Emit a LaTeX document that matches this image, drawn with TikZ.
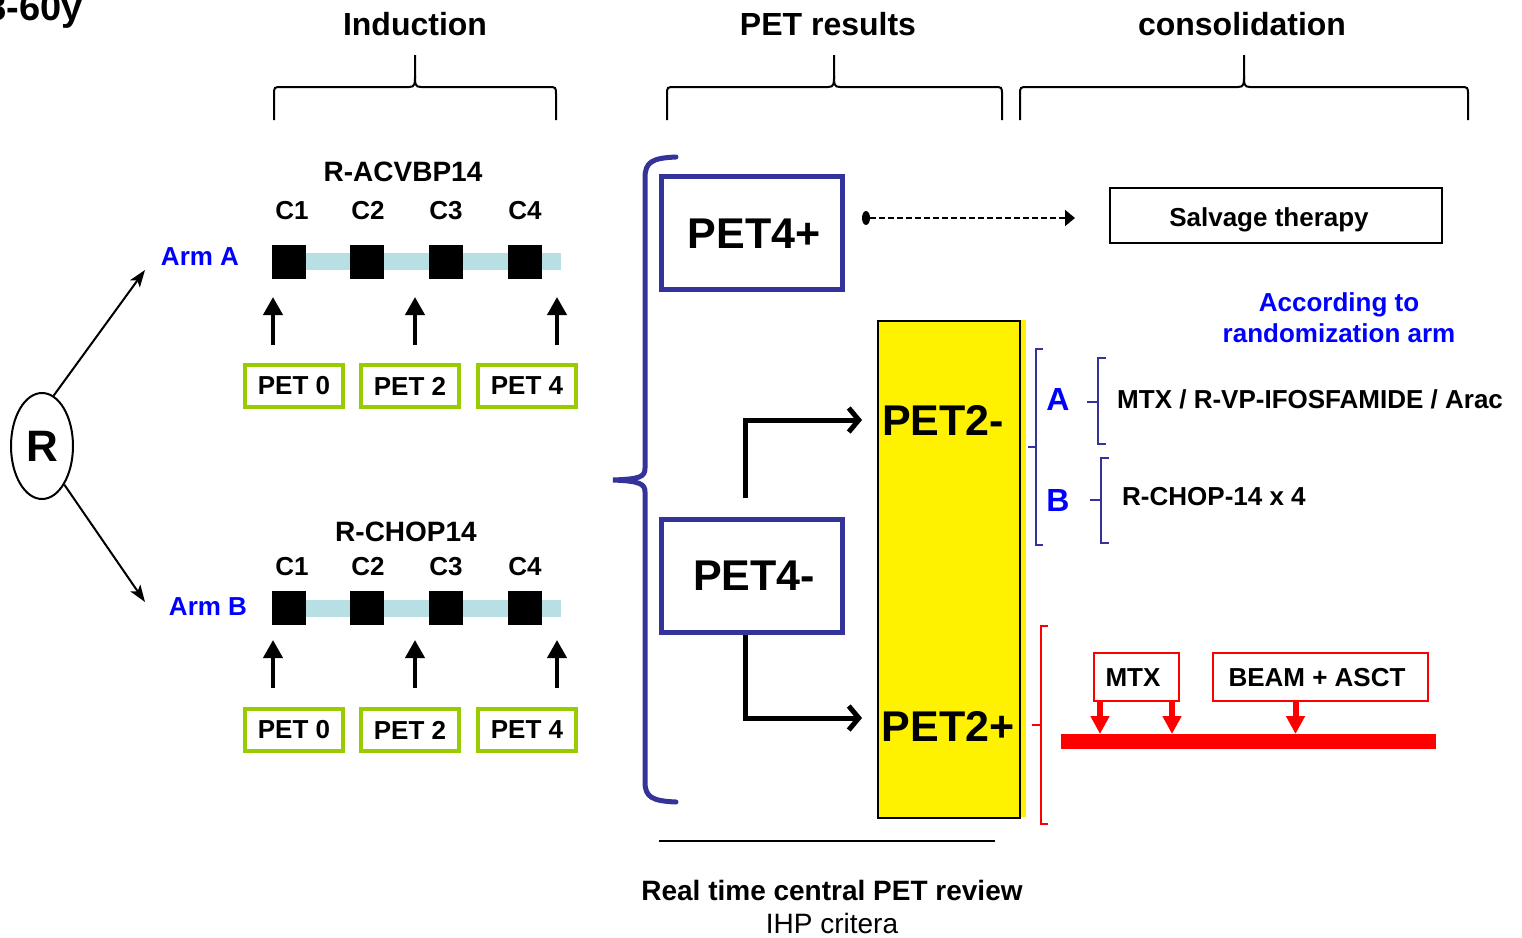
\documentclass[tikz,border=0pt]{standalone}
\usepackage{fontspec}
\setmainfont{Liberation Sans}
\usetikzlibrary{arrows.meta,shapes.geometric}
\definecolor{brblue}{RGB}{51,51,153}
\definecolor{armblue}{RGB}{0,0,255}
\definecolor{petgreen}{RGB}{153,204,0}
\definecolor{barblue}{RGB}{183,223,228}
\newcommand{\fsz}[1]{\fontsize{#1}{#1}\selectfont}
\newcommand{\topbrace}[3]{%
  \draw[line width=2pt] (#1,120) -- (#1,95) .. controls (#1,87) .. ({#1+8},87) -- ({#2-6},87) .. controls (#2,87) and (#2,84) .. (#2,76) -- (#2,55);
  \draw[line width=2pt] (#3,120) -- (#3,95) .. controls (#3,87) .. ({#3-8},87) -- ({#2+6},87) .. controls (#2,87) and (#2,84) .. (#2,76);}
\begin{document}
\begin{tikzpicture}[x=1pt,y=-1pt,
  hdr/.style={font=\bfseries\fsz{32}, inner sep=0},
  lbl/.style={font=\bfseries\fsz{26}, inner sep=0},
  armlbl/.style={font=\bfseries\fsz{26}, text=armblue, inner sep=0},
  petbox/.style={draw=petgreen, line width=4pt, minimum width=98pt, minimum height=42pt, font=\bfseries\fsz{26}, inner sep=0},
  cyc/.style={fill=black, minimum size=34pt, inner sep=0},
  uparrow/.style={line width=4pt, -{Triangle[length=18pt,width=19pt]}},
  rarrow/.style={line width=2pt, -{Stealth[length=17pt,width=12pt,inset=4pt]}},
  bigpet/.style={draw=brblue, line width=5pt, minimum width=181pt, minimum height=113pt, inner sep=0},
  bigtxt/.style={font=\bfseries\fsz{43}, inner sep=0},
  flowarrow/.style={line width=5pt, -{Straight Barb[length=10pt,width=24pt]}},
  redbox/.style={draw=red, line width=2pt, minimum height=48pt, inner sep=0},
  redtxt/.style={font=\bfseries\fsz{26}, inner sep=0},
  redarrow/.style={red, line width=6pt, -{Triangle[length=18pt,width=18pt]}},
  brk/.style={brblue, line width=2pt}
]
\useasboundingbox (0,0) rectangle (1522,937);

% title fragment
\node[font=\bfseries\fsz{38}, anchor=base east, inner sep=0] (title) at (83,20) {18-60y};

% headers
\node[hdr, anchor=base] (hInd) at (415,35) {Induction};
\node[hdr, anchor=base] (hPet) at (828,35) {PET results};
\node[hdr, anchor=base] (hCon) at (1242,35) {consolidation};
\topbrace{274}{415}{556}
\topbrace{667}{834}{1002}
\topbrace{1020}{1244}{1468}

% randomisation
\node[ellipse, draw, line width=2pt, minimum width=62pt, minimum height=106pt, inner sep=0, font=\bfseries\fsz{44}] (R) at (42,446) {R};
\coordinate (tipA) at (145,270);
\coordinate (tipB) at (145,602);
\draw[rarrow] (R.77) -- (tipA);
\draw[rarrow] (R.-60) -- (tipB);
\node[armlbl, anchor=base] (armA) at (200,265) {Arm A};
\node[armlbl, anchor=base] (armB) at (208,615) {Arm B};

% arm A
\node[lbl, anchor=base, font=\bfseries\fsz{28}] (regA) at (403,181) {R-ACVBP14};
\fill[barblue] (289,253) rectangle (561,270);
\foreach \x/\i in {289/1,367/2,446/3,525/4}{
  \node[cyc] (cA\i) at (\x,262) {};
}
\foreach \x/\i in {292/1,368/2,446/3,525/4}{
  \node[lbl, anchor=base] (lA\i) at (\x,219) {C\i};
}
\foreach \x/\i in {273/0,415/2,557/4}{
  \coordinate (uAs\i) at (\x,345);
  \coordinate (uAe\i) at (\x,297);
  \draw[uparrow] (uAs\i) -- (uAe\i);
}
\node[petbox] (pA0) at (294,386) {PET 0};
\node[petbox] (pA2) at (410,386) {PET 2};
\node[petbox] (pA4) at (527,386) {PET 4};

% arm B
\node[lbl, anchor=base, font=\bfseries\fsz{28}] (regB) at (406,541) {R-CHOP14};
\fill[barblue] (289,600) rectangle (561,617);
\foreach \x/\i in {289/1,367/2,446/3,525/4}{
  \node[cyc] (cB\i) at (\x,608) {};
}
\foreach \x/\i in {292/1,368/2,446/3,525/4}{
  \node[lbl, anchor=base] (lB\i) at (\x,575) {C\i};
}
\foreach \x/\i in {273/0,415/2,557/4}{
  \coordinate (uBs\i) at (\x,688);
  \coordinate (uBe\i) at (\x,640);
  \draw[uparrow] (uBs\i) -- (uBe\i);
}
\node[petbox] (pB0) at (294,730) {PET 0};
\node[petbox] (pB2) at (410,730) {PET 2};
\node[petbox] (pB4) at (527,730) {PET 4};

% big blue bracket
\draw[brblue, line width=5pt, line cap=round] (676,157) .. controls (652,158) and (645,162) .. (645,178) -- (645,468) .. controls (645,477) and (640,479) .. (613,480)
  .. controls (640,481) and (645,484) .. (645,492) -- (645,782) .. controls (645,797) and (652,801) .. (676,802);

% PET4+ / PET4-
\node[bigpet] (pet4p) at (751.5,232.5) {};
\node[bigtxt, anchor=base] (t4p) at (754,248) {PET4+};
\node[bigpet] (pet4m) at (751.5,576) {};
\node[bigtxt, anchor=base] (t4m) at (754,590) {PET4-};

% salvage
\node[ellipse, fill=black, minimum width=8pt, minimum height=14pt, inner sep=0] (dot) at (866,218) {};
\node[draw, line width=2pt, minimum width=332pt, minimum height=55pt, inner sep=0] (salv) at (1276,215.5) {};
\node[font=\bfseries\fsz{26}, anchor=base, inner sep=0] (salvt) at (1269,226) {Salvage therapy};
\coordinate (dtip) at (1075,218);
\draw[line width=1.8pt, dash pattern=on 6pt off 3pt, -{Triangle[length=10pt,width=16pt]}] (dot) -- (dtip);
\node[font=\bfseries\fsz{26}, text=armblue, anchor=base, inner sep=0] (acc1) at (1339,311) {According to};
\node[font=\bfseries\fsz{26}, text=armblue, anchor=base, inner sep=0] (acc2) at (1339,342) {randomization arm};

% yellow column
\fill[yellow] (877,320) rectangle (1026,817);
\node[draw, line width=2pt, fill=yellow, minimum width=142pt, minimum height=497pt, anchor=north west, inner sep=0] (yel) at (877,320) {};
\node[bigtxt, anchor=base] (p2m) at (943,435) {PET2-};
\node[bigtxt, anchor=base] (p2p) at (948,741) {PET2+};

% flow arrows
\coordinate (fs1) at (745,498);
\coordinate (fe1) at (862,420);
\coordinate (fe2) at (862,718);
\draw[flowarrow] (fs1) -- (fs1 |- fe1) -- (fe1);
\draw[flowarrow] (pet4m.south -| fs1) -- (fs1 |- fe2) -- (fe2);

% A / B bracket
\draw[brk] (1043,349) -- (1036,349) -- (1036,545) -- (1043,545);
\draw[brk] (1028,447) -- (1036,447);
\node[font=\bfseries\fsz{32}, text=armblue, anchor=base, inner sep=0] (lA) at (1058,410.5) {A};
\node[font=\bfseries\fsz{32}, text=armblue, anchor=base, inner sep=0] (lB) at (1058,511.5) {B};
\draw[brk] (1106,358) -- (1098,358) -- (1098,444) -- (1106,444);
\draw[brk] (1087,402) -- (1098,402);
\draw[brk] (1109,458) -- (1101,458) -- (1101,543) -- (1109,543);
\draw[brk] (1090,500) -- (1101,500);
\node[lbl, anchor=base west] (cA) at (1117,408) {MTX / R-VP-IFOSFAMIDE / Arac};
\node[lbl, anchor=base west] (cB) at (1122,505) {R-CHOP-14 x 4};

% red part
\draw[red, line width=1.5pt] (1048,626) -- (1041,626) -- (1041,824) -- (1048,824);
\draw[red, line width=1.5pt] (1032,725) -- (1041,725);
\node[redbox, minimum width=85pt] (mtx) at (1136.5,677) {};
\node[redtxt] (mtxt) at (1133,678) {MTX};
\node[redbox, minimum width=215pt] (beam) at (1320.5,677) {};
\node[redtxt] (beamt) at (1317,678) {BEAM + ASCT};
\node[fill=red, minimum width=375pt, minimum height=15pt, inner sep=0, anchor=north west] (redbar) at (1061,734) {};
\draw[redarrow] ([xshift=7pt]mtx.south west) -- ([xshift=7pt]mtx.south west |- redbar.north);
\draw[redarrow] ([xshift=-8pt]mtx.south east) -- ([xshift=-8pt]mtx.south east |- redbar.north);
\draw[redarrow] ([xshift=-25pt]beam.south) -- ([xshift=-25pt]beam.south |- redbar.north);

% bottom
\coordinate (bl1) at (659,841);
\coordinate (bl2) at (995,841);
\draw[line width=1.5pt] (bl1) -- (bl2);
\node[font=\bfseries\fsz{28}, anchor=base, inner sep=0] (rt) at (832,900) {Real time central PET review};
\node[font=\fsz{28}, anchor=base, inner sep=0] (ihp) at (832,933) {IHP critera};
\end{tikzpicture}
\end{document}
